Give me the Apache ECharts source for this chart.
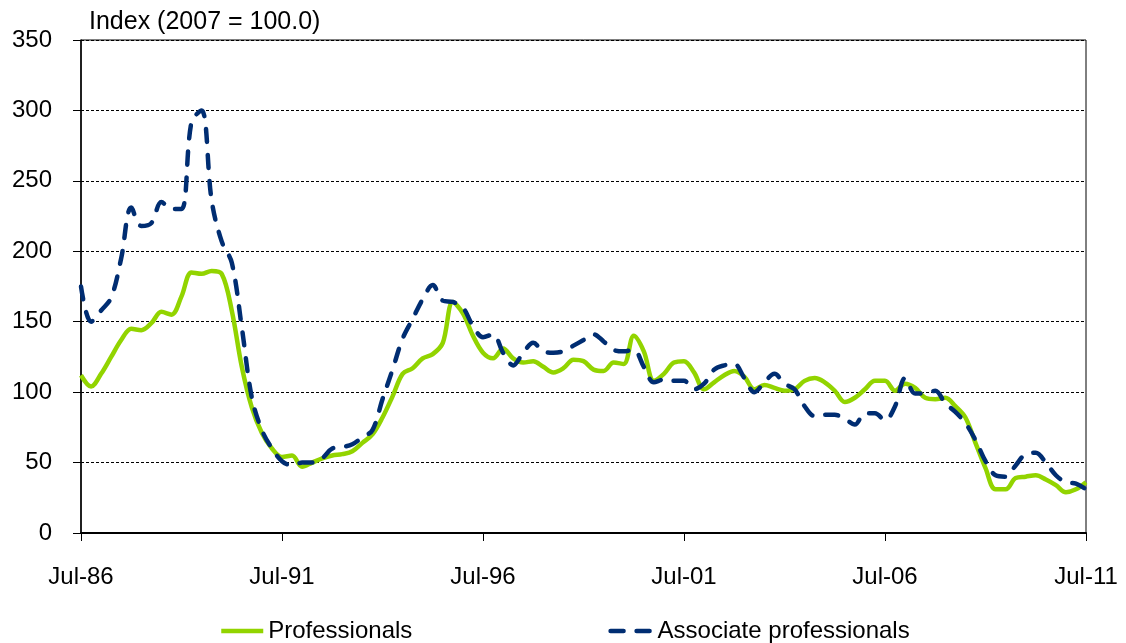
<!DOCTYPE html>
<html>
<head>
<meta charset="utf-8">
<script src="https://cdn.jsdelivr.net/npm/echarts@6/dist/echarts.min.js"></script>
<style>
  html, body { margin: 0; padding: 0; background: #ffffff; }
  #chart { width: 1126px; height: 643px; }
</style>
</head>
<body>
<div id="chart"></div>
<script>
// Labelled ticks on the time axis
const tickLabels = ['Jul-86', 'Jul-91', 'Jul-96', 'Jul-01', 'Jul-06', 'Jul-11'];

// Quarterly index values, Jul-86 to Jul-11 (2007 = 100.0)
const professionals = [
  112, 104, 113, 125, 137, 145, 144, 149, 157, 155,
  168, 185, 184, 186, 184, 158, 118, 89, 71, 60,
  54, 55, 47, 50, 53, 55, 56, 58, 64, 70,
  82, 97, 113, 117, 124, 127, 135, 164, 156, 140,
  128, 124, 131, 124, 121, 122, 118, 114, 117, 123,
  122, 116, 115, 121, 120, 140, 129, 108, 113, 121,
  122, 114, 102, 107, 112, 115, 111, 102, 105, 103,
  101, 102, 108, 110, 107, 101, 93, 96, 102, 108,
  108, 101, 106, 103, 96, 95, 96, 90, 82, 64,
  46, 31, 31, 39, 40, 41, 38, 34, 29, 31,
  36
];

const associateProfessionals = [
  175, 150, 158, 167, 195, 231, 218, 220, 235, 230,
  230, 292, 300, 236, 207, 192, 146, 96, 73, 60,
  51, 48, 50, 50, 53, 60, 61, 63, 68, 73,
  95, 116, 138, 152, 166, 176, 165, 164, 160, 147,
  139, 141, 128, 119, 128, 135, 129, 128, 129, 133,
  137, 141, 136, 130, 129, 130, 118, 107, 109, 108,
  108, 102, 106, 116, 119, 120, 110, 100, 107, 113,
  106, 102, 90, 83, 84, 84, 81, 77, 85, 85,
  80, 90, 110, 99, 99, 101, 92, 86, 78, 66,
  51, 41, 40, 48, 56, 57, 50, 41, 36, 35,
  31
];

// Quarter labels starting at July 1986
const monthAbbr = ['Jan', 'Feb', 'Mar', 'Apr', 'May', 'Jun', 'Jul', 'Aug', 'Sep', 'Oct', 'Nov', 'Dec'];
const categories = [];
for (let q = 0; q < professionals.length; q++) {
  const m = 6 + q * 3;
  const year = 1986 + Math.floor(m / 12);
  categories.push(monthAbbr[m % 12] + '-' + String(year % 100).padStart(2, '0'));
}
const showTick = (idx, value) => tickLabels.includes(value);

const FONT = "'Liberation Sans', Arial, sans-serif";
const GREEN = '#92d400';
const NAVY = '#002d72';

const chart = echarts.init(document.getElementById('chart'), null, { renderer: 'canvas' });
chart.setOption({
  animation: false,
  backgroundColor: '#ffffff',
  textStyle: { fontFamily: FONT, color: '#000' },
  title: {
    text: 'Index (2007 = 100.0)',
    left: 84,
    top: 5,
    textStyle: { fontFamily: FONT, fontSize: 25, fontWeight: 'normal', color: '#000' }
  },
  grid: {
    left: 81, right: 40, top: 40, bottom: 110,
    show: true, borderColor: '#000', borderWidth: 1, backgroundColor: 'transparent'
  },
  legend: {
    data: ['Professionals', 'Associate professionals'],
    left: 214,
    top: 614,
    itemWidth: 42,
    itemHeight: 14,
    itemGap: 196,
    itemStyle: { opacity: 0 },
    lineStyle: { width: 4.5 },
    textStyle: { fontFamily: FONT, fontSize: 24, color: '#000' }
  },
  xAxis: {
    type: 'category',
    data: categories,
    boundaryGap: false,
    axisLine: { lineStyle: { color: '#000', width: 2 } },
    axisTick: { show: true, interval: showTick, length: 8, lineStyle: { color: '#000', width: 1 } },
    axisLabel: { interval: showTick, fontSize: 24, color: '#000', margin: 32, fontFamily: FONT },
    splitLine: { show: false }
  },
  yAxis: {
    type: 'value',
    min: 0, max: 350, interval: 50,
    axisLine: { show: true, lineStyle: { color: '#000', width: 1.5 } },
    axisTick: { show: true, length: 8, lineStyle: { color: '#000', width: 1 } },
    axisLabel: { fontSize: 24, color: '#000', margin: 29, fontFamily: FONT },
    splitLine: { show: true, lineStyle: { color: '#000', width: 1, type: [3, 2] } }
  },
  series: [
    {
      name: 'Professionals',
      type: 'line',
      data: professionals,
      smooth: 0.35,
      symbol: 'none',
      lineStyle: { color: GREEN, width: 4.5 },
      itemStyle: { color: GREEN },
      z: 3
    },
    {
      name: 'Associate professionals',
      type: 'line',
      data: associateProfessionals,
      smooth: 0.35,
      symbol: 'none',
      lineStyle: { color: NAVY, width: 4.5, type: [13, 13], cap: 'round' },
      itemStyle: { color: NAVY },
      z: 4
    }
  ]
});
</script>
</body>
</html>
